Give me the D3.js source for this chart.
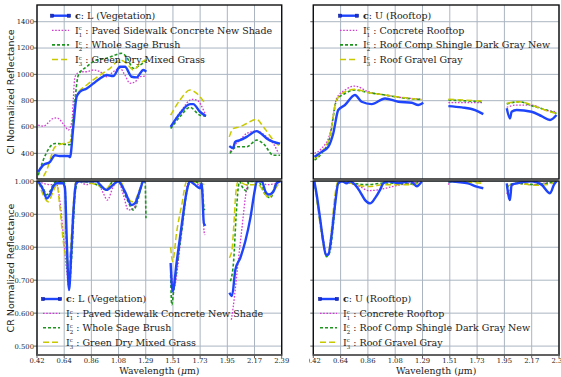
<!DOCTYPE html>
<html lang="en">
<head>
<meta charset="UTF-8">
<title>CI / CR spectra</title>
<script src="https://d3js.org/d3.v7.min.js"></script>
<style>
  body { margin: 0; background: #fff; }
  svg { display: block; }
  .tick-label { font-family: "DejaVu Serif", serif; font-size: 6.8px; fill: #222; }
  .leg { font-family: "DejaVu Serif", serif; font-size: 9.5px; fill: #222; }
  .ylab { font-family: "DejaVu Sans", sans-serif; font-size: 9.5px; fill: #222; }
  .xlab { font-family: "DejaVu Serif", serif; font-size: 9.3px; fill: #222; }
</style>
</head>
<body>
<div id="container"></div>
<script>
// tick labels (evenly spaced wavelength ticks)
const xTickLabels = ["0.42", "0.64", "0.86", "1.08", "1.29", "1.51", "1.73", "1.95", "2.17", "2.39"];
const ciTicks = [400, 600, 800, 1000, 1200, 1400];
const crTicks = [0.5, 0.6, 0.7, 0.8, 0.9, 1.0];

const vegLabels = ["L (Vegetation)", "Paved Sidewalk Concrete New Shade", "Whole Sage Brush", "Green Dry Mixed Grass"];
const roofLabels = ["U (Rooftop)", "Concrete Rooftop", "Roof Comp Shingle Dark Gray New", "Roof Gravel Gray"];

// continuum-included spectra, [wavelength, value]; null = water band gap
const vegCI_c = [[0.43,259],[0.47,310],[0.525,335],[0.565,386],[0.60,380],[0.672,380],[0.686,372],[0.712,600],[0.739,830],[0.766,868],[0.82,893],[0.873,930],[0.927,969],[0.981,995],[1.034,987],[1.088,1058],[1.128,1058],[1.182,982],[1.222,977],[1.276,1033],[1.30,1020], null,
  [1.496,601],[1.571,703],[1.652,774],[1.678,774],[1.732,716],[1.78,683], null,
  [1.968,455],[2.0,440],[2.014,487],[2.054,500],[2.108,525],[2.188,569],[2.215,556],[2.269,513],[2.323,487],[2.377,474]];
const vegCI_1 = [[0.43,615],[0.47,607],[0.55,665],[0.578,670],[0.645,607],[0.672,577],[0.70,640],[0.726,982],[0.766,1020],[0.82,1020],[0.873,1033],[0.927,1020],[0.98,982],[1.034,1020],[1.088,1046],[1.128,995],[1.168,932],[1.21,944],[1.25,982],[1.30,987], null,
  [1.496,601],[1.585,729],[1.666,810],[1.706,805],[1.772,703], null,
  [1.974,411],[2.0,450],[2.054,500],[2.108,551],[2.188,569],[2.269,525],[2.323,474],[2.364,400]];
const vegCI_2 = [[0.43,234],[0.47,348],[0.565,475],[0.632,470],[0.686,465],[0.71,652],[0.753,995],[0.82,1058],[0.90,1109],[0.98,1122],[1.05,1147],[1.10,1160],[1.14,1134],[1.196,1046],[1.25,1071],[1.30,1109], null,
  [1.496,588],[1.571,678],[1.652,749],[1.732,690],[1.78,683], null,
  [1.974,400],[2.027,450],[2.108,450],[2.188,500],[2.242,474],[2.323,386],[2.377,386]];
const vegCI_3 = [[0.43,170],[0.498,272],[0.565,449],[0.632,475],[0.686,487],[0.71,627],[0.739,843],[0.82,919],[0.927,995],[1.008,1046],[1.088,1109],[1.14,1084],[1.196,1033],[1.25,1084],[1.30,1114], null,
  [1.496,690],[1.571,805],[1.652,881],[1.706,855],[1.772,780], null,
  [1.968,525],[2.0,589],[2.054,602],[2.108,627],[2.188,658],[2.242,602],[2.323,500],[2.377,450]];

const roofCI_c = [[0.43,373],[0.487,411],[0.54,449],[0.58,551],[0.62,729],[0.674,767],[0.754,843],[0.808,792],[0.888,774],[0.995,817],[1.102,792],[1.209,784],[1.262,767],[1.302,784], null,
  [1.503,759],[1.61,749],[1.717,729],[1.783,698], null,
  [1.971,742],[1.997,665],[2.01,716],[2.05,729],[2.17,716],[2.25,683],[2.318,653],[2.37,691]];
const roofCI_1 = [[0.43,400],[0.487,437],[0.554,551],[0.607,817],[0.674,881],[0.754,911],[0.861,868],[0.995,843],[1.129,824],[1.289,811], null,
  [1.503,785],[1.783,785], null,
  [1.971,750],[2.05,767],[2.17,767],[2.28,729],[2.37,716]];
const roofCI_2 = [[0.43,348],[0.487,400],[0.554,525],[0.607,805],[0.674,855],[0.754,881],[0.861,862],[0.995,843],[1.129,822],[1.289,809], null,
  [1.503,805],[1.783,792], null,
  [1.971,775],[2.07,792],[2.19,755],[2.29,729],[2.37,703]];
const roofCI_3 = [[0.43,360],[0.487,411],[0.554,538],[0.607,805],[0.674,868],[0.754,886],[0.861,862],[0.995,843],[1.129,824],[1.289,809], null,
  [1.503,811],[1.783,797], null,
  [1.971,780],[2.07,792],[2.19,760],[2.29,724],[2.37,703]];

// continuum-removed spectra
const vegCR_c = [[0.43,1.0],[0.47,0.974],[0.498,0.948],[0.525,0.96],[0.55,0.984],[0.58,0.994],[0.63,0.994],[0.645,0.98],[0.66,0.817],[0.678,0.67],[0.694,0.767],[0.712,0.9],[0.734,0.994],[0.76,1.0],[0.90,1.0],[0.927,0.99],[0.98,0.974],[1.034,0.99],[1.074,1.0],[1.128,0.969],[1.182,0.928],[1.21,0.934],[1.25,0.974],[1.276,1.0],[1.296,1.0], null,
  [1.496,0.752],[1.512,0.666],[1.545,0.757],[1.585,0.868],[1.625,0.969],[1.65,1.0],[1.69,0.99],[1.732,0.979],[1.745,0.994],[1.765,0.868],[1.778,0.87], null,
  [1.969,0.662],[1.99,0.652],[2.017,0.732],[2.057,0.768],[2.097,0.818],[2.138,0.889],[2.172,0.97],[2.19,1.0],[2.23,1.0],[2.258,0.97],[2.285,0.96],[2.325,0.97],[2.35,0.995],[2.38,1.0]];
const vegCR_1 = [[0.43,1.0],[0.525,0.99],[0.578,0.99],[0.605,0.938],[0.632,0.837],[0.66,0.726],[0.678,0.676],[0.70,0.797],[0.726,0.959],[0.75,1.0],[0.82,0.99],[0.90,1.0],[0.954,0.964],[0.986,0.943],[1.034,0.984],[1.074,1.0],[1.115,0.959],[1.155,0.913],[1.196,0.918],[1.25,0.969],[1.276,1.0],[1.30,0.994], null,
  [1.50,0.736],[1.52,0.676],[1.585,0.848],[1.64,1.0],[1.706,0.99],[1.745,0.99],[1.765,0.848],[1.772,0.837], null,
  [1.985,0.58],[2.0,0.62],[2.04,0.758],[2.07,0.858],[2.097,0.949],[2.12,1.0],[2.2,1.0],[2.27,0.99],[2.35,0.994],[2.38,1.0]];
const vegCR_2 = [[0.43,1.0],[0.47,0.979],[0.498,0.959],[0.525,0.97],[0.55,0.99],[0.58,1.0],[0.63,1.0],[0.645,0.99],[0.66,0.767],[0.68,0.686],[0.70,0.777],[0.726,0.959],[0.75,1.0],[0.90,0.99],[0.98,0.974],[1.034,1.0],[1.074,1.0],[1.142,0.948],[1.196,0.913],[1.236,0.948],[1.27,1.0],[1.29,1.0],[1.297,0.888], null,
  [1.496,0.716],[1.505,0.625],[1.52,0.666],[1.585,0.848],[1.64,0.99],[1.678,1.0],[1.732,0.99],[1.75,0.979],[1.765,0.918],[1.772,0.913], null,
  [1.977,0.697],[2.003,0.758],[2.022,0.889],[2.04,0.98],[2.05,1.0],[2.07,0.985],[2.11,0.97],[2.125,1.0],[2.20,1.0],[2.258,0.96],[2.30,0.95],[2.34,0.99],[2.38,1.0]];
const vegCR_3 = [[0.43,1.0],[0.47,0.959],[0.51,0.938],[0.55,0.969],[0.58,0.99],[0.605,0.918],[0.632,0.817],[0.66,0.757],[0.672,0.741],[0.69,0.797],[0.712,0.928],[0.734,1.0],[0.90,0.99],[0.98,0.979],[1.034,1.0],[1.088,1.0],[1.142,0.959],[1.182,0.938],[1.21,0.943],[1.25,0.979],[1.276,1.0],[1.30,1.0], null,
  [1.496,0.80],[1.512,0.757],[1.545,0.848],[1.585,0.928],[1.625,1.0],[1.732,0.994],[1.77,0.99], null,
  [1.969,0.768],[1.99,0.793],[2.003,0.858],[2.022,0.97],[2.04,1.0],[2.10,0.99],[2.20,0.99],[2.258,0.96],[2.285,0.95],[2.325,0.97],[2.38,1.0]];

const roofCR_c = [[0.428,1.0],[0.447,0.96],[0.474,0.888],[0.50,0.817],[0.52,0.777],[0.54,0.777],[0.567,0.837],[0.594,0.928],[0.62,0.994],[0.65,1.0],[0.687,0.994],[0.714,1.0],[0.754,0.99],[0.794,0.969],[0.835,0.943],[0.875,0.933],[0.915,0.949],[0.955,0.974],[0.981,0.994],[1.02,1.0],[1.10,0.995],[1.20,1.0],[1.25,0.985],[1.29,1.0], null,
  [1.503,1.0],[1.58,0.998],[1.66,0.994],[1.73,0.984],[1.783,0.979], null,
  [1.971,0.994],[1.997,0.943],[2.01,0.99],[2.05,0.994],[2.17,1.0],[2.25,0.99],[2.318,0.964],[2.35,0.99],[2.37,1.0]];
const roofCR_1 = [[0.428,1.0],[0.46,0.928],[0.50,0.827],[0.527,0.777],[0.54,0.78],[0.567,0.847],[0.594,0.938],[0.615,0.994],[0.65,1.0],[0.714,0.994],[0.794,0.984],[0.861,0.972],[0.94,0.974],[1.02,0.981],[1.129,0.99],[1.22,0.995],[1.29,1.0], null,
  [1.503,0.99],[1.53,1.0],[1.783,1.0], null,
  [1.971,0.962],[2.01,0.984],[2.05,0.994],[2.17,0.99],[2.25,0.994],[2.33,0.996],[2.37,1.0]];
const roofCR_2 = [[0.428,1.0],[0.46,0.919],[0.50,0.817],[0.527,0.771],[0.554,0.787],[0.58,0.868],[0.607,0.969],[0.634,1.0],[0.72,0.995],[0.85,0.99],[1.00,0.995],[1.20,0.992],[1.29,1.0], null,
  [1.503,0.998],[1.783,1.0], null,
  [1.971,0.979],[1.997,0.99],[2.05,0.994],[2.20,0.99],[2.30,0.995],[2.37,1.0]];
const roofCR_3 = [[0.428,1.0],[0.46,0.909],[0.50,0.807],[0.52,0.777],[0.54,0.782],[0.567,0.858],[0.594,0.959],[0.62,1.0],[0.86,0.984],[1.0,0.99],[1.22,0.99],[1.29,1.0], null,
  [1.503,1.0],[1.783,0.994], null,
  [1.971,0.984],[2.05,0.994],[2.20,0.988],[2.30,0.99],[2.37,1.0]];

const styles = [
  { color: "#1f45fc", width: 2.4, dash: null },
  { color: "#d23cd2", width: 1.3, dash: "1.6,1.6" },
  { color: "#1e951e", width: 1.6, dash: "3,2" },
  { color: "#c9c900", width: 1.5, dash: "6,3" }
];

const width = 561, height = 377;
const svg = d3.select("#container").append("svg")
  .attr("width", width).attr("height", height);
const defs = svg.append("defs");

const xMin = 0.42, xMax = 2.39;
const xTickVals = d3.range(10).map(i => xMin + i * (xMax - xMin) / 9);

let clipId = 0;
function panel(o) {
  const x = d3.scaleLinear().domain([xMin, xMax]).range([o.x0, o.x1]);
  const y = d3.scaleLinear().domain(o.yDomain).range([o.y1, o.y0]);
  const g = svg.append("g");
  const id = "clip" + (clipId++);
  defs.append("clipPath").attr("id", id).append("rect")
    .attr("x", o.x0).attr("y", o.y0).attr("width", o.x1 - o.x0).attr("height", o.y1 - o.y0);

  // grid
  g.selectAll(".vg").data(xTickVals).enter().append("line")
    .attr("x1", d => x(d)).attr("x2", d => x(d)).attr("y1", o.y0).attr("y2", o.y1)
    .attr("stroke", "#aab5c1").attr("stroke-width", 1);
  g.selectAll(".hg").data(o.yTicks).enter().append("line")
    .attr("x1", o.x0).attr("x2", o.x1).attr("y1", d => y(d)).attr("y2", d => y(d))
    .attr("stroke", "#aab5c1").attr("stroke-width", 1);

  // series
  const line = d3.line().defined(d => d !== null)
    .x(d => x(d[0])).y(d => y(d[1])).curve(d3.curveMonotoneX);
  const sg = g.append("g").attr("clip-path", `url(#${id})`);
  [1, 2, 3, 0].forEach(i => {
    const s = styles[i];
    sg.append("path").datum(o.series[i]).attr("d", line)
      .attr("fill", "none").attr("stroke", s.color).attr("stroke-width", s.width)
      .attr("stroke-dasharray", s.dash).attr("stroke-linejoin", "round");
  });

  // left ticks
  g.selectAll(".yt").data(o.yTicks).enter().append("line")
    .attr("x1", o.x0 - 3).attr("x2", o.x0).attr("y1", d => y(d)).attr("y2", d => y(d))
    .attr("stroke", "#333").attr("stroke-width", 0.8);
  if (o.yLabels) {
    g.selectAll(".ytl").data(o.yTicks).enter().append("text")
      .attr("class", "tick-label").attr("x", o.x0 - 3).attr("y", d => y(d) + 2.4)
      .attr("text-anchor", "end").text(o.yFormat);
  }
  if (o.xLabels) {
    g.selectAll(".xt").data(xTickVals).enter().append("line")
      .attr("x1", d => x(d)).attr("x2", d => x(d)).attr("y1", o.y1).attr("y2", o.y1 + 3)
      .attr("stroke", "#333").attr("stroke-width", 0.8);
    const xl = g.append("g");
    if (o.xClip) {
      const cid = "clip" + (clipId++);
      defs.append("clipPath").attr("id", cid).append("rect")
        .attr("x", o.xClip[0]).attr("y", o.y1).attr("width", o.xClip[1] - o.xClip[0]).attr("height", 12);
      xl.attr("clip-path", `url(#${cid})`);
    }
    xl.selectAll("text").data(xTickVals).enter().append("text")
      .attr("class", "tick-label").attr("x", d => x(d)).attr("y", o.y1 + 7.6)
      .attr("text-anchor", "middle").text((d, i) => xTickLabels[i]);
    g.append("text").attr("class", "xlab").attr("x", (o.x0 + o.x1) / 2).attr("y", o.y1 + 18.8)
      .attr("text-anchor", "middle")
      .call(t => {
        t.append("tspan").text("Wavelength (");
        t.append("tspan").attr("font-style", "italic").text("\u03bc");
        t.append("tspan").text("m)");
      });
  }

  // frame
  g.append("rect").attr("x", o.x0).attr("y", o.y0).attr("width", o.x1 - o.x0).attr("height", o.y1 - o.y0)
    .attr("fill", "none").attr("stroke", "#111").attr("stroke-width", 1.4);
  if (o.xLabels) {
    g.append("line").attr("x1", o.x0).attr("x2", o.x1).attr("y1", o.y1).attr("y2", o.y1)
      .attr("stroke", "#666").attr("stroke-width", 1.6);
  }

  if (o.yTitle) {
    g.append("text").attr("class", "ylab")
      .attr("transform", `translate(14,${(o.y0 + o.y1) / 2}) rotate(-90)`)
      .attr("text-anchor", "middle").text(o.yTitle);
  }

  // legend
  const lg = g.append("g");
  o.labels.forEach((lab, i) => {
    const s = styles[i];
    const ly = o.legY + i * o.legDy;
    lg.append("line").attr("x1", o.legX).attr("x2", o.legX + 17).attr("y1", ly).attr("y2", ly)
      .attr("stroke", s.color).attr("stroke-width", s.width).attr("stroke-dasharray", s.dash);
    if (i === 0) {
      [o.legX, o.legX + 17].forEach(mx => lg.append("rect")
        .attr("x", mx - 1.6).attr("y", ly - 1.6).attr("width", 3.2).attr("height", 3.2)
        .attr("fill", "#1a2fd0").attr("stroke", "#0a1a90").attr("stroke-width", 0.5));
    }
    const t = lg.append("text").attr("class", "leg").attr("x", o.legX + 23).attr("y", ly + 3.3);
    if (i === 0) {
      t.append("tspan").attr("font-weight", "bold").text("c");
      t.append("tspan").text(": " + lab);
    } else {
      t.append("tspan").text("I");
      t.append("tspan").attr("dy", -3.2).attr("font-size", "5.5px").text("c");
      t.append("tspan").attr("dx", -3.1).attr("dy", 6.2).attr("font-size", "5.5px").text(i);
      t.append("tspan").attr("dy", -3).text(" : " + lab);
    }
  });
}

const ciDomain = [205, 1527], crDomain = [0.473, 1.001];
const L = { x0: 37, x1: 281.7 }, R = { x0: 313.3, x1: 559 };

panel({ ...L, y0: 5, y1: 179, yDomain: ciDomain, yTicks: ciTicks, yLabels: true, yFormat: d => d,
  series: [vegCI_c, vegCI_1, vegCI_2, vegCI_3], labels: vegLabels,
  legX: 52, legY: 15.7, legDy: 14.6, yTitle: "CI Normalized Reflectance" });
panel({ ...R, y0: 5, y1: 179, yDomain: ciDomain, yTicks: ciTicks, yLabels: false,
  series: [roofCI_c, roofCI_1, roofCI_2, roofCI_3], labels: roofLabels,
  legX: 340, legY: 15.7, legDy: 14.6 });
panel({ ...L, y0: 181, y1: 355, yDomain: crDomain, yTicks: crTicks, yLabels: true, yFormat: d3.format(".3f"),
  series: [vegCR_c, vegCR_1, vegCR_2, vegCR_3], labels: vegLabels, xLabels: true,
  legX: 43, legY: 299, legDy: 14.4, yTitle: "CR Normalized Reflectance" });
panel({ ...R, y0: 181, y1: 355, yDomain: crDomain, yTicks: crTicks, yLabels: false,
  series: [roofCR_c, roofCR_1, roofCR_2, roofCR_3], labels: roofLabels, xLabels: true, xClip: [309, 561],
  legX: 320, legY: 299, legDy: 14.4 });
</script>
</body>
</html>
